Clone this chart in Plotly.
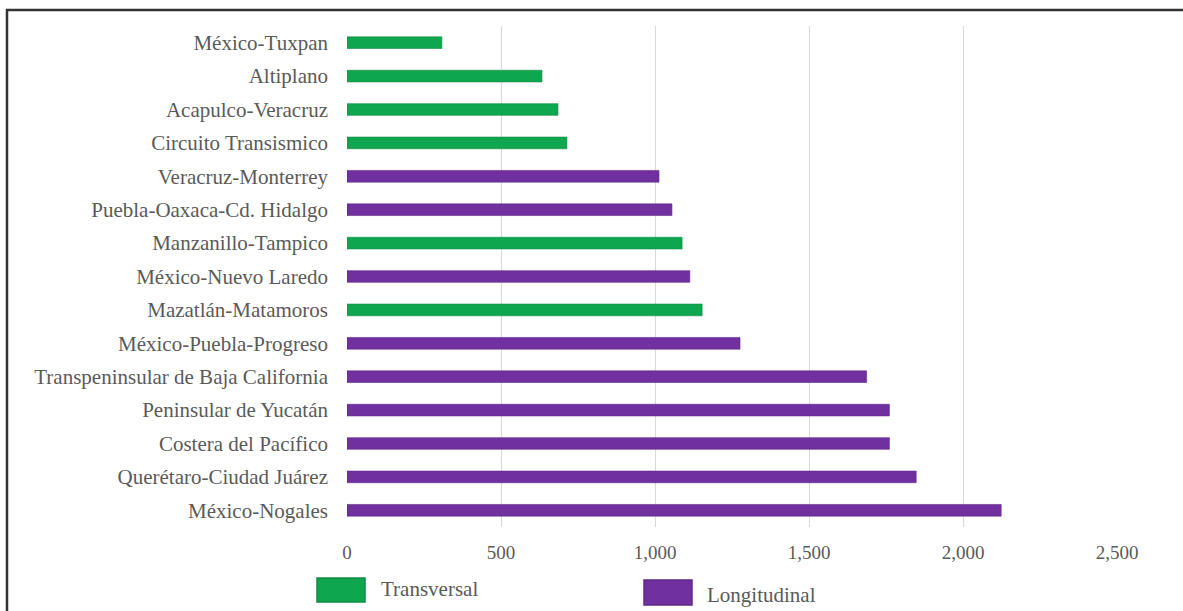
import plotly.graph_objects as go

# Federal road corridors, listed top to bottom, with their length (km)
corredores = [
    "México-Tuxpan",
    "Altiplano",
    "Acapulco-Veracruz",
    "Circuito Transismico",
    "Veracruz-Monterrey",
    "Puebla-Oaxaca-Cd. Hidalgo",
    "Manzanillo-Tampico",
    "México-Nuevo Laredo",
    "Mazatlán-Matamoros",
    "México-Puebla-Progreso",
    "Transpeninsular de Baja California",
    "Peninsular de Yucatán",
    "Costera del Pacífico",
    "Querétaro-Ciudad Juárez",
    "México-Nogales",
]
longitud_km = [308, 633, 685, 714, 1013, 1055, 1088, 1113, 1153, 1276,
               1687, 1761, 1761, 1848, 2124]
tipo = ["Transversal", "Transversal", "Transversal", "Transversal",
        "Longitudinal", "Longitudinal", "Transversal", "Longitudinal",
        "Transversal", "Longitudinal", "Longitudinal", "Longitudinal",
        "Longitudinal", "Longitudinal", "Longitudinal"]

series = ["Transversal", "Longitudinal"]
colores = {"Transversal": "#0ea64f", "Longitudinal": "#7030a0"}
bordes = {"Transversal": "#138a45", "Longitudinal": "#5e2a86"}

x_ticks = [0, 500, 1000, 1500, 2000, 2500]
x_ticktext = ["0", "500", "1,000", "1,500", "2,000", "2,500"]

W, H = 1183, 611
L, R, T, B = 347, 66, 26, 84
FONT = "Liberation Serif"
GRIS = "#5a5a5a"


def px(x):
    return (x - L) / (W - L - R)


def py(y):
    return (H - B - y) / (H - T - B)


fig = go.Figure()
for s in series:
    fig.add_trace(go.Bar(
        name=s,
        y=corredores,
        x=[v if t == s else None for v, t in zip(longitud_km, tipo)],
        orientation="h",
        width=0.35,
        marker=dict(color=colores[s], line=dict(color=bordes[s], width=0.6)),
        showlegend=False,
    ))

# Legend: large swatches with labels under the axis
leyenda = [
    ("Transversal", 317, 365, 578, 602, 379, 589),
    ("Longitudinal", 644, 692, 580, 605, 705, 595),
]
shapes = []
annotations = []
for nombre, x0, x1, y0, y1, xt, yt in leyenda:
    shapes.append(dict(
        type="rect", xref="paper", yref="paper",
        x0=px(x0), x1=px(x1), y0=py(y1), y1=py(y0),
        fillcolor=colores[nombre], line=dict(color=bordes[nombre], width=1.5),
    ))
    annotations.append(dict(
        text=nombre, xref="paper", yref="paper", x=px(xt), y=py(yt),
        xanchor="left", yanchor="middle", showarrow=False,
        font=dict(family=FONT, size=21, color=GRIS),
    ))

# Outer frame around the chart
shapes.append(dict(
    type="rect", xref="paper", yref="paper", layer="above",
    x0=px(7), x1=px(1195), y0=py(625), y1=py(10),
    line=dict(color="#333333", width=2.5), fillcolor="rgba(0,0,0,0)",
))

fig.update_layout(
    width=W, height=H,
    margin=dict(l=L, r=R, t=T, b=B),
    paper_bgcolor="white", plot_bgcolor="white",
    barmode="relative",
    showlegend=False,
    font=dict(family=FONT, size=19, color=GRIS),
    xaxis=dict(
        range=[0, 2500], tickvals=x_ticks, ticktext=x_ticktext,
        showgrid=True, gridcolor="#d9d9d9", gridwidth=1,
        zeroline=False, showline=False, ticks="",
        ticklabelstandoff=12,
        tickfont=dict(family=FONT, size=19, color=GRIS),
    ),
    yaxis=dict(
        autorange="reversed", showgrid=False, zeroline=False,
        showline=False, ticks="", ticklabelstandoff=18,
        tickfont=dict(family=FONT, size=21, color=GRIS),
    ),
    shapes=shapes,
    annotations=annotations,
)

fig.write_html("out.html")
